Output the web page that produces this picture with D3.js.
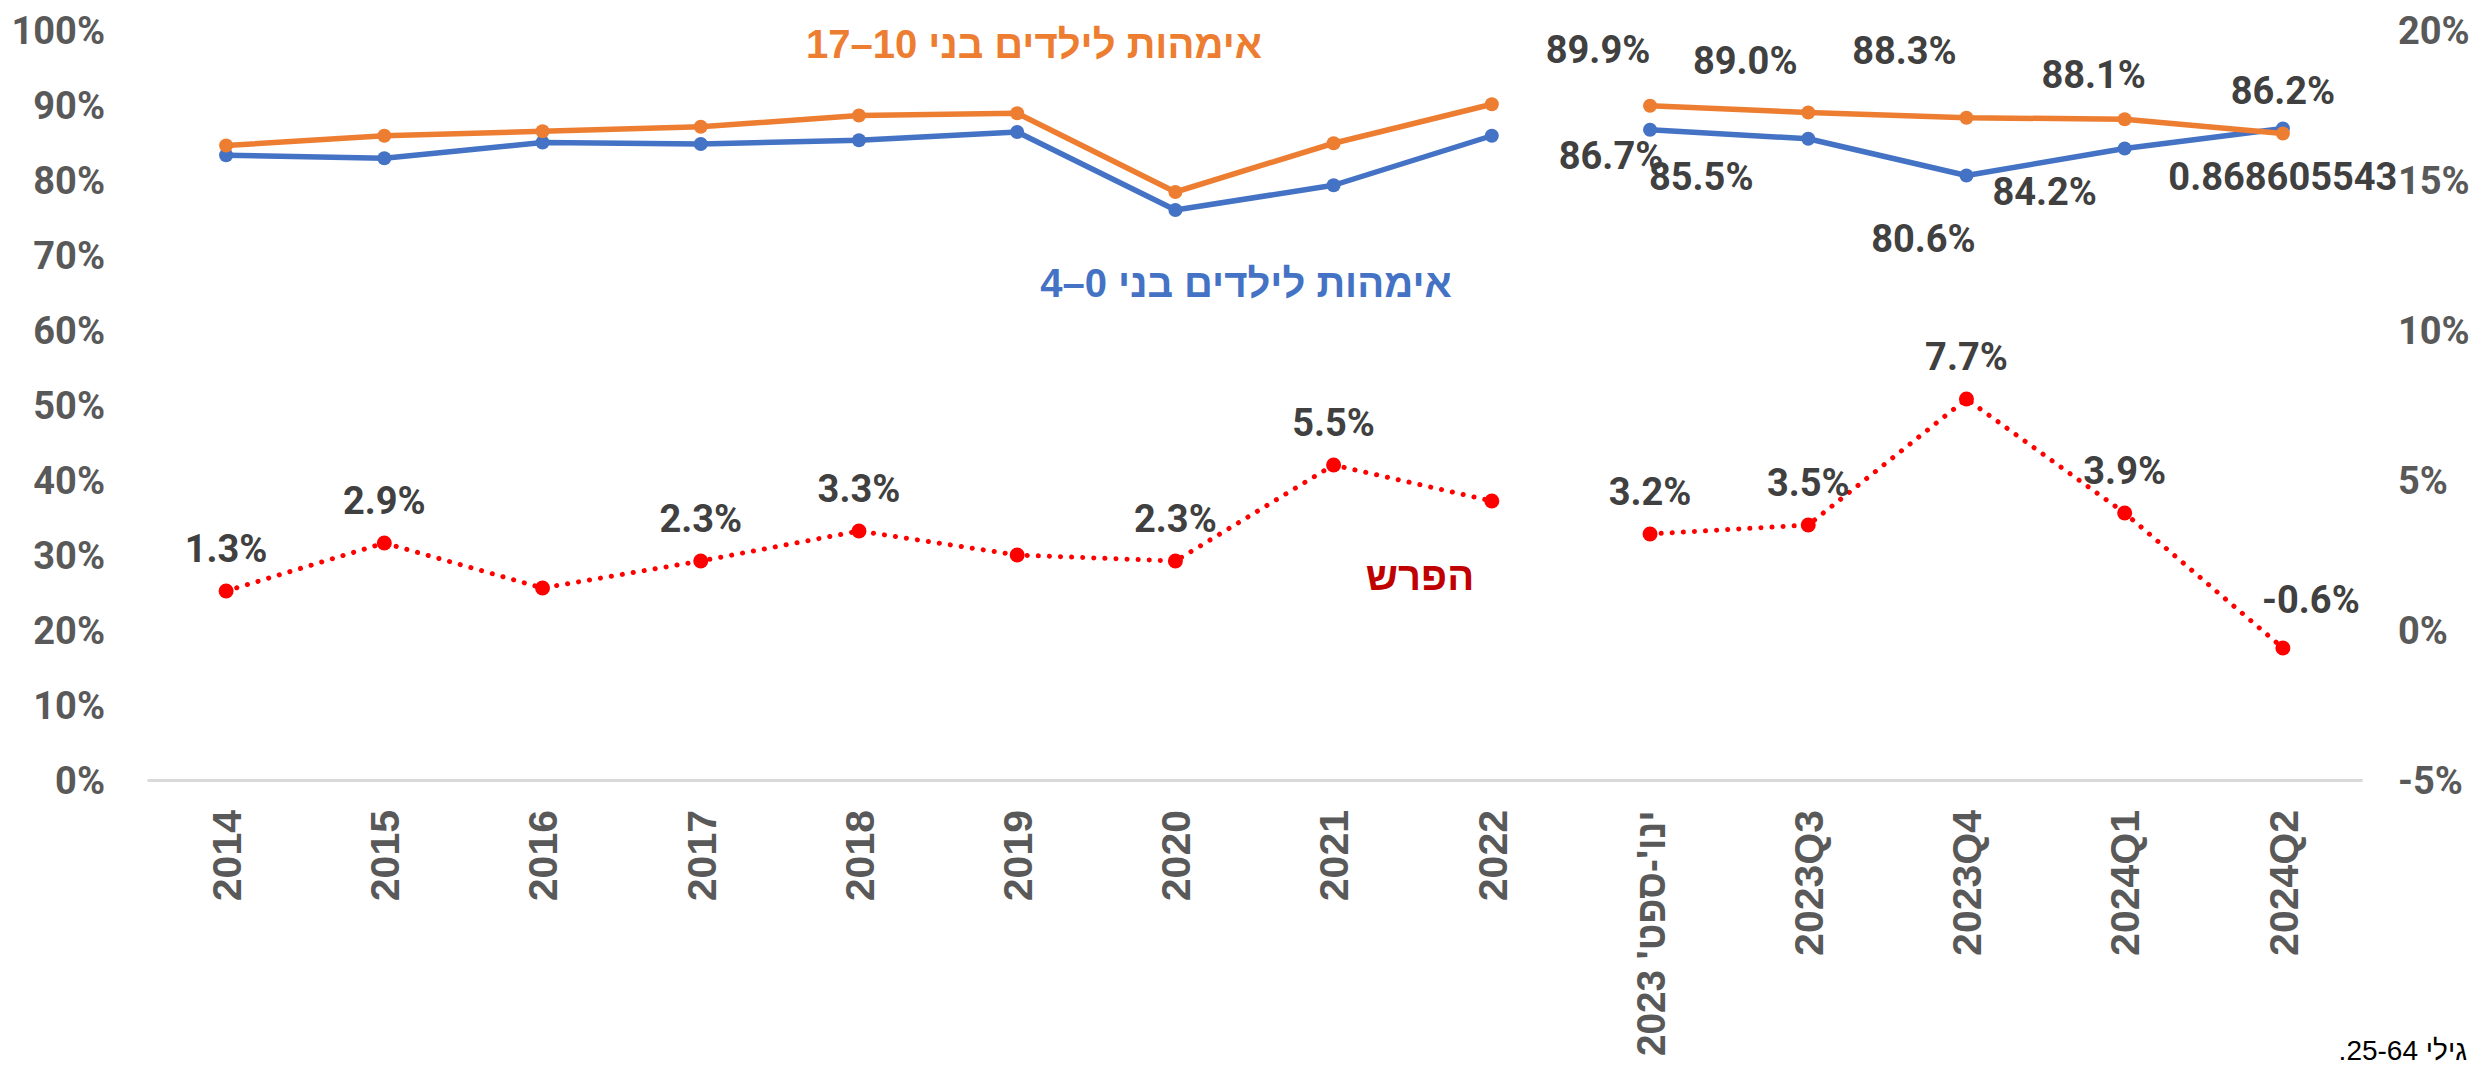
<!DOCTYPE html>
<html>
<head>
<meta charset="utf-8">
<script src="https://cdn.jsdelivr.net/npm/d3@7"></script>
<style>
  body { margin: 0; background: #fff; }
  svg { display: block; }
  .num { font-family: Roboto, 'Liberation Sans', sans-serif; font-weight: 700; }
  .heb { font-family: 'Liberation Sans', 'DejaVu Sans', sans-serif; font-weight: 700; }
</style>
</head>
<body>
<svg id="chart" width="2481" height="1067"></svg>
<script>
//

const categories = ['2014', '2015', '2016', '2017', '2018', '2019', '2020', '2021', '2022',
  "ינו'-ספט' 2023", '2023Q3', '2023Q4', '2024Q1', '2024Q2']
// lines break between the annual part and the 2023+ part
const segment = [0, 0, 0, 0, 0, 0, 0, 0, 0, 1, 1, 1, 1, 1]

const moms10to17 = [0.846, 0.859, 0.865, 0.871, 0.886, 0.889, 0.784, 0.849, 0.901,
  0.899, 0.890, 0.883, 0.881, 0.862]
const moms0to4 = [0.833, 0.829, 0.850, 0.848, 0.853, 0.864, 0.760, 0.793, 0.859,
  0.867, 0.855, 0.806, 0.842, 0.868605543]
const gap = [0.013, 0.029, 0.014, 0.023, 0.033, 0.025, 0.023, 0.055, 0.043,
  0.032, 0.035, 0.077, 0.039, -0.006]

const moms10to17Labels = [null, null, null, null, null, null, null, null, null,
  '89.9%', '89.0%', '88.3%', '88.1%', '86.2%']
const moms0to4Labels = [null, null, null, null, null, null, null, null, null,
  '86.7%', '85.5%', '80.6%', '84.2%', '0.868605543']
const gapLabels = ['1.3%', '2.9%', null, '2.3%', '3.3%', null, '2.3%', '5.5%', null,
  '3.2%', '3.5%', '7.7%', '3.9%', '-0.6%']

const leftTicks = [0, 0.1, 0.2, 0.3, 0.4, 0.5, 0.6, 0.7, 0.8, 0.9, 1]
const rightTicks = [-0.05, 0, 0.05, 0.1, 0.15, 0.2]

const titleOrange = 'אימהות לילדים בני 10–17'
const titleBlue = 'אימהות לילדים בני 0–4'
const titleGap = 'הפרש'
const footnote = 'גילי 25-64.'

// hand placed label offsets (label centre relative to its point)
const nudgeOrange = [[-52, -56], [-63, -52], [-62, -67], [-31, -45], [0, -43]]
const nudgeBlue = [[-39, 26], [-107, 38], [-43, 63], [-80, 43], [0, 48]]

//

const svg = d3.select('#chart')
svg.append('rect').attr('width', 2481).attr('height', 1067).attr('fill', '#fff')

const x = d3.scaleBand().domain(categories).range([147, 2362])
const cx = (i) => x(categories[i]) + x.bandwidth() / 2
const yL = d3.scaleLinear().domain([0, 1]).range([780, 30])
const yR = d3.scaleLinear().domain([-0.05, 0.2]).range([780, 30])

const pct = d3.formatLocale({ decimal: '.', thousands: ',', grouping: [3], currency: ['', ''], minus: '-' }).format('.0%')
const isHebrew = (s) => /[\u0590-\u05FF]/.test(s)

// axes
const left = svg.append('g')
  .attr('transform', 'translate(147,0)')
  .call(d3.axisLeft(yL).tickValues(leftTicks).tickFormat(pct).tickSize(0).tickPadding(42))
left.select('.domain').remove()

const right = svg.append('g')
  .attr('transform', 'translate(2362,0)')
  .call(d3.axisRight(yR).tickValues(rightTicks).tickFormat(pct).tickSize(0).tickPadding(36))
right.select('.domain').remove()

;[left, right].forEach((g) => {
  g.selectAll('text')
    .attr('class', 'num')
    .attr('font-size', 38)
    .attr('fill', '#595959')
    .attr('dy', '0.36em')
})

const bottom = svg.append('g')
  .attr('transform', 'translate(0,780)')
  .call(d3.axisBottom(x).tickSize(0).tickSizeOuter(0))
bottom.select('.domain').attr('stroke', '#d9d9d9').attr('stroke-width', 3)
bottom.selectAll('text')
  .attr('font-family', "'Liberation Sans', Arial, sans-serif")
  .attr('font-weight', 700)
  .attr('font-size', 41)
  .attr('fill', '#595959')
  .attr('transform', 'rotate(-90)')
  .attr('x', -30)
  .attr('y', 0)
  .attr('dy', '0.36em')
  .attr('text-anchor', (d) => isHebrew(d) ? 'start' : 'end')
  .attr('direction', (d) => isHebrew(d) ? 'rtl' : 'ltr')
bottom.selectAll('text')
  .filter((d) => isHebrew(d))
  .attr('textLength', 246)
  .attr('lengthAdjust', 'spacingAndGlyphs')

// lines
const idx = d3.range(categories.length)
const groups = d3.groups(idx, (i) => segment[i]).map((g) => g[1])

function drawSeries (values, scale, color, width, dashed, r) {
  const line = d3.line().x((i) => cx(i)).y((i) => scale(values[i]))
  const g = svg.append('g')
  groups.forEach((grp) => {
    const p = g.append('path')
      .attr('d', line(grp))
      .attr('fill', 'none')
      .attr('stroke', color)
      .attr('stroke-width', width)
      .attr('stroke-linejoin', 'round')
    if (dashed) {
      p.attr('stroke-dasharray', '0.1 11').attr('stroke-linecap', 'round')
    }
  })
  g.selectAll('circle')
    .data(idx)
    .join('circle')
    .attr('cx', (i) => cx(i))
    .attr('cy', (i) => scale(values[i]))
    .attr('r', r)
    .attr('fill', color)
}

drawSeries(moms0to4, yL, '#4472c4', 5.5, false, 7)
drawSeries(moms10to17, yL, '#ed7d31', 5.5, false, 7)
drawSeries(gap, yR, '#ff0000', 5, true, 7.5)

// data labels
function drawLabels (values, labels, scale, nudge) {
  svg.append('g')
    .selectAll('text')
    .data(idx.filter((i) => labels[i] !== null))
    .join('text')
    .attr('class', 'num')
    .attr('font-size', 38)
    .attr('fill', '#404040')
    .attr('text-anchor', 'middle')
    .attr('dy', '0.36em')
    .attr('x', (i, k) => cx(i) + nudge(i, k)[0])
    .attr('y', (i, k) => scale(values[i]) + nudge(i, k)[1])
    .text((i) => labels[i])
}

drawLabels(moms10to17, moms10to17Labels, yL, (i, k) => nudgeOrange[k])
drawLabels(moms0to4, moms0to4Labels, yL, (i, k) => nudgeBlue[k])
drawLabels(gap, gapLabels, yR, (i) => i === categories.length - 1 ? [28, -49] : [0, -43])

// series names
svg.append('text').attr('class', 'heb')
  .attr('direction', 'rtl').attr('text-anchor', 'middle')
  .attr('x', 1034).attr('y', 58).attr('font-size', 40).attr('fill', '#ed7d31')
  .text(titleOrange)

svg.append('text').attr('class', 'heb')
  .attr('direction', 'rtl').attr('text-anchor', 'middle')
  .attr('x', 1246).attr('y', 297).attr('font-size', 40).attr('fill', '#4472c4')
  .text(titleBlue)

svg.append('text').attr('class', 'heb')
  .attr('direction', 'rtl').attr('text-anchor', 'middle')
  .attr('x', 1420).attr('y', 590).attr('font-size', 40).attr('fill', '#c00000')
  .text(titleGap)

svg.append('text')
  .attr('font-family', "'Liberation Sans Narrow', 'Liberation Sans', sans-serif")
  .attr('direction', 'rtl').attr('text-anchor', 'start')
  .attr('x', 2467).attr('y', 1060).attr('font-size', 28).attr('fill', '#000')
  .text(footnote)
</script>
</body>
</html>
